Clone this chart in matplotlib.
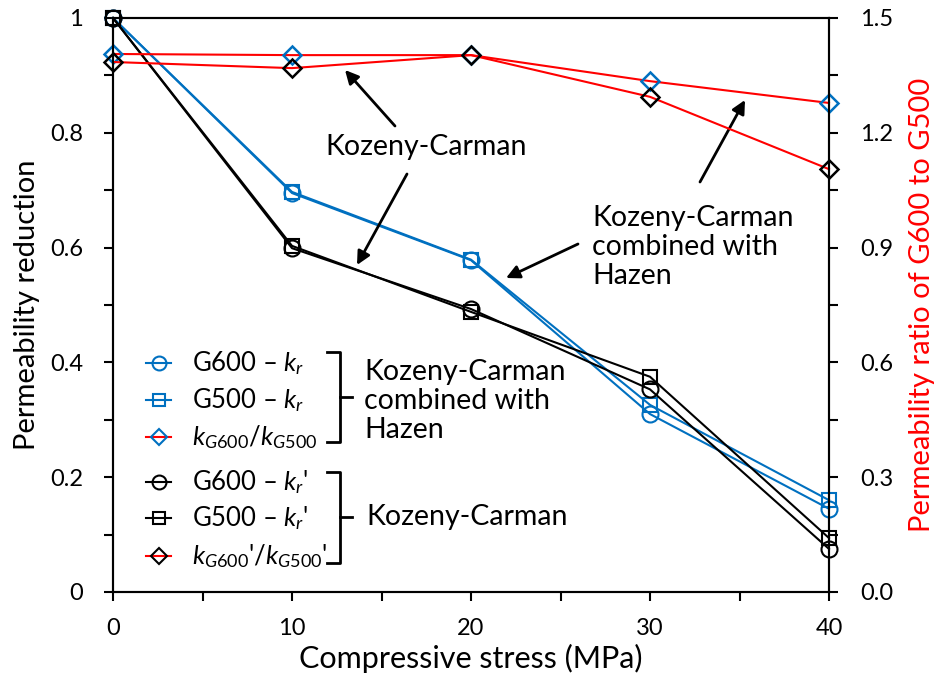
import matplotlib
matplotlib.use("Agg")
import matplotlib.pyplot as plt
from matplotlib.lines import Line2D
from matplotlib.ticker import MultipleLocator

plt.rcParams['font.family'] = ['Lato', 'DejaVu Sans']
plt.rcParams['mathtext.fontset'] = 'custom'
plt.rcParams['mathtext.rm'] = 'Lato'
plt.rcParams['mathtext.it'] = 'Lato:italic'

stress = [0, 10, 20, 30, 40]
g600_kr = [1.0, 0.695, 0.578, 0.310, 0.145]
g500_kr = [1.0, 0.697, 0.579, 0.326, 0.160]
ratio_hazen = [1.406, 1.403, 1.403, 1.335, 1.278]
g600_krp = [1.0, 0.599, 0.493, 0.353, 0.075]
g500_krp = [1.0, 0.603, 0.488, 0.375, 0.094]
ratio_kc = [1.385, 1.369, 1.403, 1.294, 1.105]

left_ticks = [0, 0.2, 0.4, 0.6, 0.8, 1.0]
left_ticklabels = ['0', '0.2', '0.4', '0.6', '0.8', '1']
right_ticks = [0, 0.3, 0.6, 0.9, 1.2, 1.5]
right_ticklabels = ['0.0', '0.3', '0.6', '0.9', '1.2', '1.5']

BLUE = '#0070C0'
RED = '#FF0000'

W, H = 940, 679
fig = plt.figure(figsize=(9.4, 6.79), dpi=100)
L, R, T, B = 113, 829, 18, 592
ax = fig.add_axes([L / W, 1 - B / H, (R - L) / W, (B - T) / H])
ax2 = ax.twinx()

ms = 11.5
kw = dict(lw=1.5, mfc='none', mew=1.5, clip_on=False)
ax.plot(stress, g600_kr, color=BLUE, marker='o', ms=ms, **kw)
ax.plot(stress, g500_kr, color=BLUE, marker='s', ms=ms - 1.5, **kw)
ax.plot(stress, g600_krp, color='black', marker='o', ms=ms, **kw)
ax.plot(stress, g500_krp, color='black', marker='s', ms=ms - 1.5, **kw)
ax2.plot(stress, ratio_hazen, color=RED, marker='D', ms=ms - 2, mec=BLUE, lw=1.5, mfc='none', mew=1.8, clip_on=False)
ax2.plot(stress, ratio_kc, color=RED, marker='D', ms=ms - 2, mec='black', lw=1.5, mfc='none', mew=1.8, clip_on=False)

ax.set_xlim(0, 40)
ax.set_ylim(0, 1)
ax2.set_ylim(0, 1.5)
ax.xaxis.set_major_locator(MultipleLocator(10))
ax.xaxis.set_minor_locator(MultipleLocator(5))
ax.set_yticks(left_ticks)
ax.set_yticklabels(left_ticklabels)
ax.yaxis.set_minor_locator(MultipleLocator(0.1))
ax2.set_yticks(right_ticks)
ax2.set_yticklabels(right_ticklabels)
ax2.yaxis.set_minor_locator(MultipleLocator(0.15))

for a in (ax, ax2):
    a.tick_params(which='both', direction='out', length=6.5, width=1.5, labelsize=17)
    for s in a.spines.values():
        s.set_linewidth(1.5)
ax.tick_params(axis='x', pad=12)
ax.tick_params(axis='y', pad=15)
ax2.tick_params(axis='y', pad=16)

ax.set_xlabel('Compressive stress (MPa)', fontsize=22, labelpad=4)
ax.set_ylabel('Permeability reduction', fontsize=21, labelpad=7)
ax2.set_ylabel('Permeability ratio of G600 to G500', fontsize=21, color=RED, labelpad=11)

def d(px, py):
    return ((px - L) / (R - L) * 40, (B - py) / (B - T) * 1.0)

arrow = dict(arrowstyle='-|>', color='black', lw=2, mutation_scale=20, shrinkA=0, shrinkB=0)
ax.text(*d(426, 147), 'Kozeny-Carman', fontsize=20.5, ha='center', va='center')
ax.annotate('', xy=d(345, 70), xytext=d(395, 126), arrowprops=arrow)
ax.annotate('', xy=d(357, 265), xytext=d(407, 174), arrowprops=arrow)
ax.text(*d(592, 247), 'Kozeny-Carman\ncombined with\nHazen', fontsize=20.5, ha='left', va='center', linespacing=1.15)
ax.annotate('', xy=d(506, 278), xytext=d(578, 244), arrowprops=arrow)
ax.annotate('', xy=d(745, 100), xytext=d(700, 182), arrowprops=arrow)

# legend
def fx(px):
    return (px - L) / (R - L)
def fy(py):
    return (B - py) / (B - T)

entries = [
    (363, BLUE, BLUE, 'o', r'G600 – $k_r$'),
    (400, BLUE, BLUE, 's', r'G500 – $k_r$'),
    (437, RED, BLUE, 'D', r'$k_{G600}/k_{G500}$'),
    (482, 'black', 'black', 'o', r"G600 – $k_r$'"),
    (518, 'black', 'black', 's', r"G500 – $k_r$'"),
    (556, RED, 'black', 'D', r"$k_{G600}$'/$k_{G500}$'"),
]
for py, lc, mc, mk, lab in entries:
    ax.add_line(Line2D([fx(146), fx(171)], [fy(py), fy(py)], transform=ax.transAxes, color=lc, lw=1.5))
    ax.add_line(Line2D([fx(158.5)], [fy(py)], transform=ax.transAxes, marker=mk,
                       ms=(10 if mk == 'o' else 8.5), mfc='none', mec=mc, mew=1.5))
    ax.text(fx(192), fy(py), lab, transform=ax.transAxes, fontsize=18.5, ha='left', va='center')

def bracket(y0, y1, ym):
    xs = [fx(327), fx(340), fx(340), fx(327)]
    ys = [fy(y0), fy(y0), fy(y1), fy(y1)]
    ax.add_line(Line2D(xs, ys, transform=ax.transAxes, color='black', lw=2))
    ax.add_line(Line2D([fx(340), fx(352)], [fy(ym), fy(ym)], transform=ax.transAxes, color='black', lw=2))

bracket(352, 442, 397)
bracket(472, 563, 517)
ax.text(fx(364), fy(401), 'Kozeny-Carman\ncombined with\nHazen', transform=ax.transAxes,
        fontsize=20.5, ha='left', va='center', linespacing=1.15)
ax.text(fx(366), fy(517), 'Kozeny-Carman', transform=ax.transAxes, fontsize=20.5, ha='left', va='center')

fig.savefig('out.png', dpi=100)
